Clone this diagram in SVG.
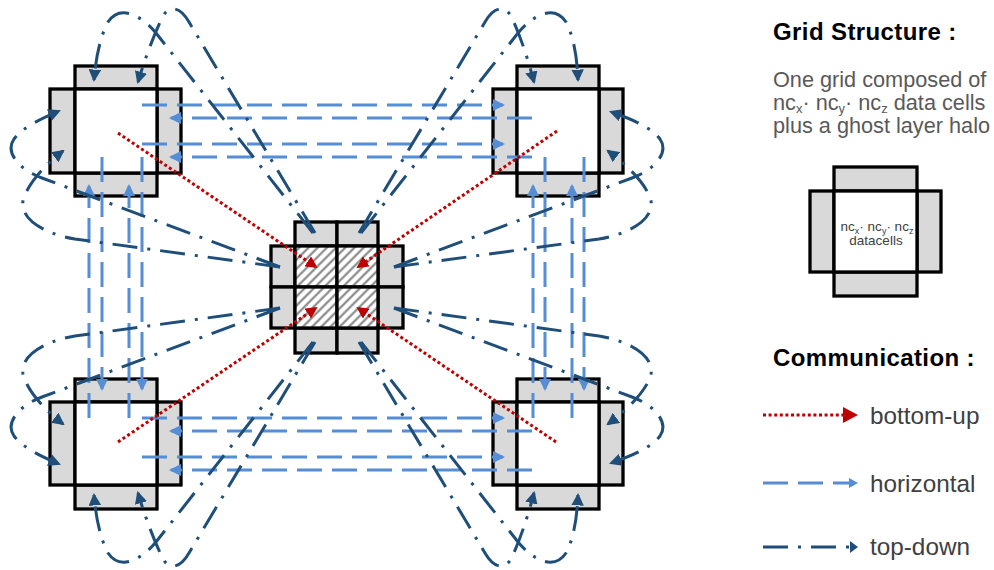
<svg xmlns="http://www.w3.org/2000/svg" width="994" height="570" viewBox="0 0 994 570">
<defs>
<style>
.ghost{fill:#D9D9D9;stroke:#000;stroke-width:3.3;}
.core{fill:#fff;stroke:#000;stroke-width:3.3;}
.hcore{fill:url(#hatch);stroke:#000;stroke-width:3.3;}
.bu{fill:none;stroke:#C00000;stroke-width:3;stroke-dasharray:3 2.6;}
.hz{fill:none;stroke:#558ED5;stroke-width:3;stroke-dasharray:25 10;}
.td{fill:none;stroke:#1F4E79;stroke-width:3;stroke-dasharray:25 10 3 10;}
.head{font-family:"Liberation Sans",Arial,sans-serif;font-weight:bold;font-size:24px;fill:#000;letter-spacing:0.4px;}
.body{font-family:"Liberation Sans",Arial,sans-serif;font-size:21.7px;fill:#595959;}
.lab{font-family:"Liberation Sans",Arial,sans-serif;font-size:24.3px;fill:#404040;}
.small{font-family:"Liberation Sans",Arial,sans-serif;font-size:13.5px;fill:#404040;}
</style>
<pattern id="hatch" patternUnits="userSpaceOnUse" width="6.5" height="6.5" patternTransform="rotate(45)">
<rect width="6.5" height="6.5" fill="#fff"/>
<line x1="3.25" y1="0" x2="3.25" y2="6.5" stroke="#7F7F7F" stroke-width="2"/>
</pattern>
<marker id="mTD" viewBox="0 0 12 12" refX="10" refY="6" markerWidth="12.5" markerHeight="12.5" markerUnits="userSpaceOnUse" orient="auto"><path d="M0,0 L12,6 L0,12 z" fill="#1F4E79"/></marker>
<marker id="mHZ" viewBox="0 0 12 12" refX="10" refY="6" markerWidth="12" markerHeight="12" markerUnits="userSpaceOnUse" orient="auto"><path d="M0,0 L12,6 L0,12 z" fill="#558ED5"/></marker>
<marker id="mBU" viewBox="0 0 12 12" refX="10" refY="6" markerWidth="12" markerHeight="12" markerUnits="userSpaceOnUse" orient="auto"><path d="M0,0 L12,6 L0,12 z" fill="#C00000"/></marker>
</defs>

<g id="grid-tl">
<rect class="ghost" x="75" y="66" width="82" height="23"/>
<rect class="ghost" x="75" y="173" width="82" height="23"/>
<rect class="ghost" x="50" y="89" width="25" height="84"/>
<rect class="ghost" x="157" y="89" width="24" height="84"/>
<rect class="core" x="75" y="89" width="82" height="84"/>
</g>
<g id="grid-tr">
<rect class="ghost" x="517" y="66" width="82" height="23"/>
<rect class="ghost" x="517" y="173" width="82" height="23"/>
<rect class="ghost" x="493" y="89" width="24" height="84"/>
<rect class="ghost" x="599" y="89" width="24" height="84"/>
<rect class="core" x="517" y="89" width="82" height="84"/>
</g>
<g id="grid-bl">
<rect class="ghost" x="75" y="379" width="82" height="23"/>
<rect class="ghost" x="75" y="485" width="82" height="24"/>
<rect class="ghost" x="50" y="402" width="25" height="83"/>
<rect class="ghost" x="157" y="402" width="24" height="83"/>
<rect class="core" x="75" y="402" width="82" height="83"/>
</g>
<g id="grid-br">
<rect class="ghost" x="517" y="379" width="82" height="23"/>
<rect class="ghost" x="517" y="485" width="82" height="24"/>
<rect class="ghost" x="493" y="402" width="24" height="83"/>
<rect class="ghost" x="599" y="402" width="24" height="83"/>
<rect class="core" x="517" y="402" width="82" height="83"/>
</g>
<g id="grid-center">
<rect class="ghost" x="295" y="222" width="42" height="24"/>
<rect class="ghost" x="337" y="222" width="41" height="24"/>
<rect class="ghost" x="295" y="328" width="42" height="25"/>
<rect class="ghost" x="337" y="328" width="41" height="25"/>
<rect class="ghost" x="271" y="246" width="24" height="41"/>
<rect class="ghost" x="271" y="287" width="24" height="41"/>
<rect class="ghost" x="378" y="246" width="25" height="41"/>
<rect class="ghost" x="378" y="287" width="25" height="41"/>
<rect class="hcore" x="295" y="246" width="42" height="41"/>
<rect class="hcore" x="337" y="246" width="41" height="41"/>
<rect class="hcore" x="295" y="287" width="42" height="41"/>
<rect class="hcore" x="337" y="287" width="41" height="41"/>
</g>

<g id="connectors">
<g id="horizontal">
<path class="hz" marker-end="url(#mHZ)" d="M142 105 H503"/>
<path class="hz" marker-end="url(#mHZ)" d="M532 118 H171"/>
<path class="hz" marker-end="url(#mHZ)" d="M142 144 H503"/>
<path class="hz" marker-end="url(#mHZ)" d="M532 157 H171"/>
<path class="hz" marker-end="url(#mHZ)" d="M142 418 H503"/>
<path class="hz" marker-end="url(#mHZ)" d="M532 431 H171"/>
<path class="hz" marker-end="url(#mHZ)" d="M142 457 H503"/>
<path class="hz" marker-end="url(#mHZ)" d="M532 470 H171"/>
<path class="hz" marker-end="url(#mHZ)" d="M102 157 V389"/>
<path class="hz" marker-end="url(#mHZ)" d="M89 418 V186"/>
<path class="hz" marker-end="url(#mHZ)" d="M142 157 V389"/>
<path class="hz" marker-end="url(#mHZ)" d="M129 418 V186"/>
<path class="hz" marker-end="url(#mHZ)" d="M545 157 V389"/>
<path class="hz" marker-end="url(#mHZ)" d="M533 418 V186"/>
<path class="hz" marker-end="url(#mHZ)" d="M584 157 V389"/>
<path class="hz" marker-end="url(#mHZ)" d="M572 418 V186"/>
</g>
<g id="bottom-up">
<path class="bu" marker-end="url(#mBU)" d="M118 133 L316 267"/>
<path class="bu" marker-end="url(#mBU)" d="M557 131 L358 267"/>
<path class="bu" marker-end="url(#mBU)" d="M118 442 L316 308"/>
<path class="bu" marker-end="url(#mBU)" d="M556 442 L358 308"/>
</g>
<g id="top-down">
<path class="td" marker-end="url(#mTD)" d="M315 233 L189 22 C181 8, 170 4, 163 16 C156 30, 146 55, 138 82"/>
<path class="td" marker-end="url(#mTD)" d="M313 233 L156 33 C141 15, 120 4, 108 22 C101 35, 96 55, 94 80"/>
<path class="td" marker-end="url(#mTD)" d="M280 267 L42 178 C18 169, 5 152, 14 139 C22 128, 40 119, 59 111"/>
<path class="td" marker-end="url(#mTD)" d="M280 267 L75 239 C40 233, 20 217, 23 201 C26 187, 42 167, 63 151"/>

<path class="td" marker-end="url(#mTD)" d="M359 233 L485 22 C493 8, 504 4, 511 16 C518 30, 527 55, 534 82"/>
<path class="td" marker-end="url(#mTD)" d="M361 233 L518 33 C533 15, 554 4, 566 22 C573 35, 577 55, 578 80"/>
<path class="td" marker-end="url(#mTD)" d="M394 267 L632 178 C656 169, 669 152, 660 139 C652 128, 632 119, 611 112"/>
<path class="td" marker-end="url(#mTD)" d="M394 267 L599 239 C634 233, 654 217, 651 201 C648 187, 630 167, 608 151"/>

<path class="td" marker-end="url(#mTD)" d="M315 342 L189 553 C181 567, 170 571, 163 559 C156 545, 146 520, 138 493"/>
<path class="td" marker-end="url(#mTD)" d="M313 342 L156 542 C141 560, 120 571, 108 553 C101 540, 96 520, 94 495"/>
<path class="td" marker-end="url(#mTD)" d="M280 308 L42 397 C18 406, 5 423, 14 436 C22 447, 40 456, 59 464"/>
<path class="td" marker-end="url(#mTD)" d="M280 308 L75 336 C40 342, 20 358, 23 374 C26 388, 42 408, 63 424"/>

<path class="td" marker-end="url(#mTD)" d="M359 342 L485 553 C493 567, 504 571, 511 559 C518 545, 527 520, 534 493"/>
<path class="td" marker-end="url(#mTD)" d="M361 342 L518 542 C533 560, 554 571, 566 553 C573 540, 577 520, 578 495"/>
<path class="td" marker-end="url(#mTD)" d="M394 308 L632 397 C656 406, 669 423, 660 436 C652 447, 632 456, 611 463"/>
<path class="td" marker-end="url(#mTD)" d="M394 308 L599 336 C634 342, 654 358, 651 374 C648 388, 630 408, 608 424"/>
</g>
</g>

<g id="legend-structure">
<text class="head" x="773" y="40">Grid Structure :</text>
<text class="body" x="773" y="87">One grid composed of</text>
<text class="body" x="773" y="109.5">nc<tspan font-size="13" dy="3.5">x</tspan><tspan dy="-3.5">· nc</tspan><tspan font-size="13" dy="3.5">y</tspan><tspan dy="-3.5">· nc</tspan><tspan font-size="13" dy="3.5">z</tspan><tspan dy="-3.5"> data cells</tspan></text>
<text class="body" x="773" y="133">plus a ghost layer halo</text>
</g>
<g id="legend-grid">
<rect class="ghost" x="834" y="167" width="83" height="24"/>
<rect class="ghost" x="834" y="272" width="83" height="24"/>
<rect class="ghost" x="810" y="191" width="24" height="81"/>
<rect class="ghost" x="917" y="191" width="24" height="81"/>
<rect class="core" x="834" y="191" width="83" height="81"/>
<text class="small" x="877" y="231" text-anchor="middle">nc<tspan font-size="9" dy="2.5">x</tspan><tspan dy="-2.5">· nc</tspan><tspan font-size="9" dy="2.5">y</tspan><tspan dy="-2.5">· nc</tspan><tspan font-size="9" dy="2.5">z</tspan></text>
<text class="small" x="876" y="245" text-anchor="middle">datacells</text>
</g>
<g id="legend-communication">
<text class="head" x="773" y="366">Communication :</text>
<path class="bu" d="M763 415 H845"/>
<polygon points="843,407 858,415 843,423" fill="#C00000"/>
<text class="lab" x="870" y="424">bottom-up</text>
<path class="hz" d="M763 483 H852"/>
<polygon points="849,478 858,483 849,488" fill="#558ED5"/>
<text class="lab" x="870" y="492">horizontal</text>
<path class="td" d="M763 547 H850"/>
<polygon points="850,541 858,547 850,553" fill="#1F4E79"/>
<text class="lab" x="870" y="555">top-down</text>
</g>
</svg>
